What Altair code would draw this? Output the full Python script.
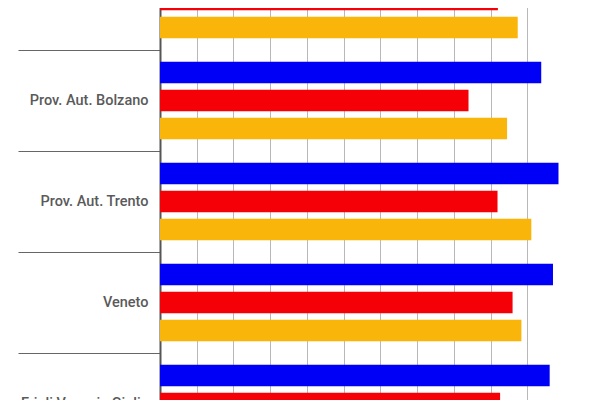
import altair as alt
import pandas as pd

regions = ["Lombardia", "Prov. Aut. Bolzano", "Prov. Aut. Trento", "Veneto", "Friuli Venezia Giulia"]
series = ["Serie 1", "Serie 2", "Serie 3"]
colors = ["#0000f6", "#f50006", "#f9b509"]
serie1 = [104.0, 103.8, 108.5, 107.0, 106.1]
serie2 = [92.0, 84.0, 91.9, 96.0, 92.6]
serie3 = [97.4, 94.5, 101.1, 98.4, 99.0]
grid_ticks = [0, 10, 20, 30, 40, 50, 60, 70, 80, 90, 100]

rows = []
for i, r in enumerate(regions):
    for s, vals in zip(series, [serie1, serie2, serie3]):
        rows.append({"region": r, "series": s, "value": vals[i]})
df = pd.DataFrame(rows)

chart = alt.Chart(df).mark_bar().encode(
    y=alt.Y(
        "region:N",
        sort=regions,
        scale=alt.Scale(paddingInner=0, paddingOuter=0),
        axis=alt.Axis(
            title=None,
            tickBand="extent",
            tickSize=142,
            tickColor="#666666",
            tickWidth=1,
            labelPadding=-130,
            labelFont="Roboto",
            labelFontSize=14.5,
            labelFontWeight=500,
            labelColor="#5a5a5a",
            labelLimit=0,
            domainColor="#555555",
            domainWidth=2,
            grid=False,
        ),
    ),
    yOffset=alt.YOffset(
        "series:N",
        sort=series,
        scale=alt.Scale(paddingInner=0.225, paddingOuter=0.416),
    ),
    x=alt.X(
        "value:Q",
        scale=alt.Scale(domain=[0, 110], nice=False),
        axis=alt.Axis(
            title=None,
            values=grid_ticks,
            labels=False,
            ticks=False,
            domain=False,
            grid=True,
            gridColor="#b8b8b8",
            gridWidth=1,
        ),
    ),
    color=alt.Color(
        "series:N",
        sort=series,
        scale=alt.Scale(domain=series, range=colors),
        legend=None,
    ),
).properties(
    width=404,
    height=505,
    padding={"left": 152, "top": -59, "right": 0, "bottom": 0},
    autosize=alt.AutoSizeParams(type="none"),
).configure_view(stroke=None)

chart.save("out.html", embed_options={"renderer": "svg", "actions": False})
